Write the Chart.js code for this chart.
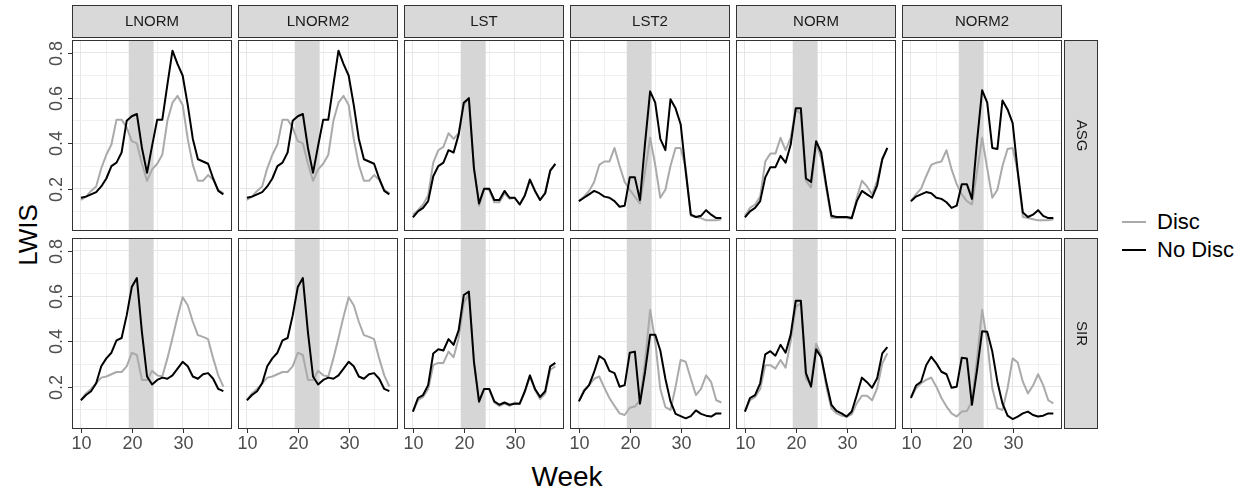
<!DOCTYPE html>
<html>
<head>
<meta charset="utf-8">
<script src="https://cdn.jsdelivr.net/npm/chart.js@4.4.1/dist/chart.umd.min.js"></script>
<style>
body { margin: 0; background: #fff; font-family: "Liberation Sans", Arial, sans-serif; }
#wrap { position: relative; width: 1249px; height: 492px; overflow: hidden; }
.cell { position: absolute; }
.title { position: absolute; color: #000; white-space: nowrap; }
#legend { position: absolute; left: 1122px; top: 208px; font-size: 22px; color: #000; }
.key { height: 28px; display: flex; align-items: center; }
.swatch { display: inline-block; width: 24px; height: 2px; margin-right: 11px; }
</style>
</head>
<body>
<div id="wrap">
  <div class="title" style="left:28px;top:235px;font-size:26px;transform:translate(-50%,-50%) rotate(-90deg);">LWIS</div>
  <div class="title" style="left:567px;top:477px;font-size:28px;transform:translate(-50%,-50%);">Week</div>
  <div id="legend"></div>
</div>
<script>
// ---- data ----
const weeks = [10,11,12,13,14,15,16,17,18,19,20,21,22,23,24,25,26,27,28,29,30,31,32,33,34,35,36,37,38];
const models = ['LNORM', 'LNORM2', 'LST', 'LST2', 'NORM', 'NORM2'];
const regions = ['ASG', 'SIR'];
const series = ['Disc', 'No Disc'];
const xTickLabels = [10, 20, 30];
const yTickLabels = [0.2, 0.4, 0.6, 0.8];
const shadedWeeks = [19.4, 24.3];

// ASG row
const lnormAsgDisc   = [0.15,0.165,0.19,0.21,0.29,0.35,0.395,0.505,0.505,0.47,0.41,0.40,0.31,0.235,0.285,0.31,0.35,0.50,0.58,0.61,0.57,0.42,0.305,0.235,0.235,0.26,0.24,0.195,0.18];
const lnormAsgNoDisc = [0.16,0.165,0.175,0.185,0.21,0.245,0.30,0.315,0.36,0.50,0.52,0.53,0.38,0.27,0.39,0.505,0.505,0.66,0.81,0.75,0.70,0.57,0.42,0.33,0.32,0.31,0.245,0.19,0.175];
const lnorm2AsgDisc   = [0.15,0.165,0.19,0.21,0.29,0.35,0.395,0.505,0.505,0.47,0.41,0.40,0.31,0.235,0.285,0.31,0.35,0.50,0.58,0.61,0.57,0.42,0.305,0.235,0.235,0.26,0.24,0.195,0.18];
const lnorm2AsgNoDisc = [0.16,0.165,0.175,0.185,0.21,0.245,0.30,0.315,0.36,0.50,0.52,0.53,0.38,0.27,0.39,0.505,0.505,0.66,0.81,0.75,0.70,0.57,0.42,0.33,0.32,0.31,0.245,0.19,0.175];
const lstAsgDisc   = [0.085,0.105,0.13,0.17,0.315,0.37,0.385,0.445,0.42,0.445,0.57,0.60,0.29,0.125,0.20,0.195,0.14,0.14,0.18,0.155,0.16,0.13,0.17,0.24,0.19,0.15,0.18,0.28,0.31];
const lstAsgNoDisc = [0.073,0.10,0.115,0.145,0.255,0.30,0.315,0.37,0.36,0.44,0.58,0.60,0.29,0.135,0.20,0.20,0.15,0.15,0.19,0.16,0.16,0.13,0.17,0.24,0.19,0.15,0.18,0.28,0.31];
const lst2AsgDisc   = [0.145,0.165,0.19,0.23,0.305,0.32,0.32,0.38,0.30,0.23,0.195,0.165,0.135,0.275,0.425,0.305,0.16,0.195,0.30,0.38,0.38,0.29,0.08,0.075,0.07,0.06,0.06,0.06,0.065];
const lst2AsgNoDisc = [0.145,0.16,0.175,0.19,0.18,0.165,0.16,0.145,0.12,0.125,0.25,0.25,0.15,0.40,0.63,0.58,0.42,0.37,0.595,0.555,0.485,0.275,0.085,0.075,0.08,0.105,0.085,0.07,0.07];
const normAsgDisc   = [0.08,0.115,0.13,0.165,0.32,0.355,0.355,0.425,0.37,0.425,0.55,0.53,0.235,0.205,0.40,0.335,0.20,0.07,0.07,0.07,0.07,0.067,0.16,0.235,0.21,0.175,0.235,0.33,0.38];
const normAsgNoDisc = [0.073,0.10,0.115,0.145,0.25,0.295,0.295,0.345,0.315,0.395,0.555,0.555,0.245,0.23,0.41,0.36,0.215,0.08,0.075,0.075,0.075,0.07,0.145,0.19,0.175,0.16,0.215,0.33,0.38];
const norm2AsgDisc   = [0.145,0.175,0.20,0.255,0.305,0.315,0.32,0.37,0.285,0.22,0.175,0.145,0.13,0.275,0.425,0.29,0.16,0.195,0.30,0.375,0.38,0.275,0.075,0.07,0.065,0.06,0.06,0.06,0.065];
const norm2AsgNoDisc = [0.145,0.165,0.175,0.185,0.18,0.16,0.155,0.14,0.115,0.125,0.22,0.22,0.155,0.41,0.635,0.58,0.38,0.375,0.59,0.55,0.49,0.275,0.095,0.075,0.085,0.105,0.08,0.07,0.07];

// SIR row
const lnormSirDisc   = [0.14,0.17,0.19,0.215,0.24,0.245,0.255,0.265,0.265,0.29,0.35,0.34,0.23,0.23,0.27,0.25,0.245,0.325,0.415,0.51,0.595,0.56,0.487,0.428,0.42,0.41,0.325,0.25,0.20];
const lnormSirNoDisc = [0.14,0.163,0.18,0.215,0.29,0.325,0.35,0.405,0.415,0.515,0.64,0.68,0.44,0.245,0.21,0.23,0.24,0.235,0.25,0.28,0.31,0.29,0.245,0.235,0.255,0.26,0.235,0.19,0.18];
const lnorm2SirDisc   = [0.14,0.17,0.19,0.215,0.24,0.245,0.255,0.265,0.265,0.29,0.35,0.34,0.23,0.23,0.27,0.25,0.245,0.325,0.415,0.51,0.595,0.56,0.487,0.428,0.42,0.41,0.325,0.25,0.20];
const lnorm2SirNoDisc = [0.14,0.163,0.18,0.215,0.29,0.325,0.35,0.405,0.415,0.515,0.64,0.68,0.44,0.245,0.21,0.23,0.24,0.235,0.25,0.28,0.31,0.29,0.245,0.235,0.255,0.26,0.235,0.19,0.18];
const lstSirDisc   = [0.09,0.14,0.155,0.19,0.295,0.305,0.305,0.355,0.33,0.415,0.57,0.61,0.31,0.13,0.19,0.19,0.13,0.115,0.125,0.115,0.13,0.125,0.175,0.245,0.185,0.145,0.17,0.275,0.29];
const lstSirNoDisc = [0.09,0.15,0.163,0.207,0.347,0.365,0.36,0.41,0.385,0.45,0.605,0.62,0.31,0.135,0.19,0.19,0.135,0.12,0.13,0.12,0.125,0.125,0.18,0.25,0.19,0.155,0.18,0.29,0.305];
const lst2SirDisc   = [0.135,0.185,0.207,0.235,0.245,0.195,0.15,0.115,0.082,0.075,0.107,0.112,0.14,0.31,0.54,0.40,0.19,0.11,0.097,0.20,0.318,0.31,0.235,0.163,0.19,0.25,0.22,0.14,0.13];
const lst2SirNoDisc = [0.135,0.18,0.207,0.265,0.335,0.32,0.27,0.26,0.20,0.207,0.35,0.355,0.125,0.265,0.43,0.43,0.36,0.235,0.135,0.08,0.07,0.06,0.07,0.095,0.08,0.072,0.068,0.082,0.082];
const normSirDisc   = [0.09,0.14,0.155,0.19,0.295,0.295,0.28,0.318,0.284,0.40,0.553,0.568,0.237,0.207,0.39,0.337,0.20,0.105,0.082,0.072,0.068,0.078,0.127,0.16,0.16,0.14,0.193,0.303,0.347];
const normSirNoDisc = [0.09,0.15,0.163,0.215,0.343,0.357,0.337,0.385,0.35,0.43,0.58,0.58,0.26,0.20,0.365,0.33,0.22,0.12,0.093,0.082,0.068,0.09,0.163,0.24,0.22,0.195,0.237,0.347,0.375];
const norm2SirDisc   = [0.15,0.193,0.215,0.23,0.24,0.20,0.15,0.112,0.082,0.068,0.09,0.093,0.134,0.325,0.54,0.40,0.193,0.105,0.097,0.193,0.325,0.307,0.222,0.17,0.205,0.255,0.207,0.14,0.126];
const norm2SirNoDisc = [0.15,0.205,0.222,0.295,0.332,0.303,0.266,0.255,0.195,0.20,0.328,0.325,0.12,0.273,0.445,0.443,0.355,0.222,0.126,0.072,0.057,0.068,0.082,0.09,0.075,0.068,0.072,0.082,0.082];

const panels = [
  [[lnormAsgDisc, lnormAsgNoDisc], [lnorm2AsgDisc, lnorm2AsgNoDisc], [lstAsgDisc, lstAsgNoDisc],
   [lst2AsgDisc, lst2AsgNoDisc], [normAsgDisc, normAsgNoDisc], [norm2AsgDisc, norm2AsgNoDisc]],
  [[lnormSirDisc, lnormSirNoDisc], [lnorm2SirDisc, lnorm2SirNoDisc], [lstSirDisc, lstSirNoDisc],
   [lst2SirDisc, lst2SirNoDisc], [normSirDisc, normSirNoDisc], [norm2SirDisc, norm2SirNoDisc]]
];

const colors = ['#aaaaaa', '#000000'];
const FONT = '"Liberation Sans", Arial, sans-serif';

// ---- layout ----
const panelW = 160, panelH = 191;
const colLeft = c => 72 + c * 166;
const rowTop = [40, 238];
const pad = { left: 45, top: 38, right: 40, bottom: 28 };

// draws shaded band, panel frame, strips and outer ticks
const facet = {
  id: 'facet',
  beforeDatasetsDraw(chart) {
    const { ctx, chartArea: a } = chart, x = chart.scales.x;
    const x0 = x.getPixelForValue(shadedWeeks[0]), x1 = x.getPixelForValue(shadedWeeks[1]);
    ctx.save();
    ctx.fillStyle = '#d6d6d6';
    ctx.fillRect(x0, a.top, x1 - x0, a.bottom - a.top);
    ctx.restore();
  },
  afterDraw(chart, args, o) {
    const { ctx, chartArea: a } = chart, x = chart.scales.x, y = chart.scales.y;
    ctx.save();
    ctx.strokeStyle = '#333333';
    ctx.lineWidth = 1;
    ctx.strokeRect(a.left + 0.5, a.top + 0.5, a.width - 1, a.height - 1);

    ctx.fillStyle = '#4d4d4d';
    ctx.font = '18px ' + FONT;
    if (o.row === 1) {
      ctx.textAlign = 'center';
      ctx.textBaseline = 'top';
      xTickLabels.forEach(v => {
        const px = Math.round(x.getPixelForValue(v)) + 0.5;
        ctx.beginPath(); ctx.moveTo(px, a.bottom); ctx.lineTo(px, a.bottom + 4); ctx.stroke();
        ctx.fillText(String(v), px, a.bottom + 6);
      });
    }
    if (o.col === 0) {
      ctx.textAlign = 'center';
      ctx.textBaseline = 'bottom';
      yTickLabels.forEach(v => {
        const py = Math.round(y.getPixelForValue(v)) + 0.5;
        ctx.beginPath(); ctx.moveTo(a.left - 4, py); ctx.lineTo(a.left, py); ctx.stroke();
        ctx.save();
        ctx.translate(a.left - 6, py);
        ctx.rotate(-Math.PI / 2);
        ctx.fillText(v.toFixed(1), 0, 0);
        ctx.restore();
      });
    }
    ctx.font = '15px ' + FONT;
    if (o.row === 0) {
      const top = a.top - 35;
      ctx.fillStyle = '#d9d9d9';
      ctx.fillRect(a.left, top, a.width, 33);
      ctx.strokeRect(a.left + 0.5, top + 0.5, a.width - 1, 32);
      ctx.fillStyle = '#1a1a1a';
      ctx.textAlign = 'center';
      ctx.textBaseline = 'middle';
      ctx.fillText(models[o.col], a.left + a.width / 2, top + 17);
    }
    if (o.col === models.length - 1) {
      const left = a.right + 2;
      ctx.fillStyle = '#d9d9d9';
      ctx.fillRect(left, a.top, 34, a.height);
      ctx.strokeRect(left + 0.5, a.top + 0.5, 33, a.height - 1);
      ctx.fillStyle = '#1a1a1a';
      ctx.textAlign = 'center';
      ctx.textBaseline = 'middle';
      ctx.save();
      ctx.translate(left + 17, a.top + a.height / 2);
      ctx.rotate(Math.PI / 2);
      ctx.fillText(regions[o.row], 0, 0);
      ctx.restore();
    }
    ctx.restore();
  }
};

const xGrid = [10, 15, 20, 25, 30, 35];
const yGrid = [0.1, 0.2, 0.3, 0.4, 0.5, 0.6, 0.7, 0.8];
const gridColor = ctx => (Math.round(ctx.tick.value * 10) % 2 === 0 ? '#e6e6e6' : '#f0f0f0');
const gridColorX = ctx => (ctx.tick.value % 10 === 0 ? '#e6e6e6' : '#f0f0f0');

const wrap = document.getElementById('wrap');

regions.forEach((region, r) => {
  models.forEach((model, c) => {
    const div = document.createElement('div');
    div.className = 'cell';
    div.style.left = (colLeft(c) - pad.left) + 'px';
    div.style.top = (rowTop[r] - pad.top) + 'px';
    const cv = document.createElement('canvas');
    cv.width = pad.left + panelW + pad.right;
    cv.height = pad.top + panelH + pad.bottom;
    div.appendChild(cv);
    wrap.appendChild(div);

    const datasets = series.map((name, s) => ({
      label: name,
      data: weeks.map((w, i) => ({ x: w, y: panels[r][c][s][i] })),
      borderColor: colors[s],
      borderWidth: 2,
      pointRadius: 0,
      tension: 0,
      borderJoinStyle: 'round',
      order: s === 1 ? 1 : 2
    }));

    new Chart(cv, {
      type: 'line',
      data: { datasets },
      plugins: [facet],
      options: {
        responsive: false,
        animation: false,
        devicePixelRatio: 1,
        events: [],
        layout: { padding: pad },
        plugins: { legend: { display: false }, tooltip: { enabled: false }, facet: { row: r, col: c } },
        scales: {
          x: {
            type: 'linear', min: 8.25, max: 39.7,
            afterBuildTicks: s => { s.ticks = xGrid.map(v => ({ value: v })); },
            ticks: { display: false },
            border: { display: false },
            grid: { drawTicks: false, color: gridColorX, lineWidth: 1 }
          },
          y: {
            type: 'linear', min: 0.013, max: 0.857,
            afterBuildTicks: s => { s.ticks = yGrid.map(v => ({ value: v })); },
            ticks: { display: false },
            border: { display: false },
            grid: { drawTicks: false, color: gridColor, lineWidth: 1 }
          }
        }
      }
    });
  });
});

// legend
const legend = document.getElementById('legend');
series.forEach((name, s) => {
  const k = document.createElement('div');
  k.className = 'key';
  k.innerHTML = '<span class="swatch" style="background:' + colors[s] + '"></span>' + name;
  legend.appendChild(k);
});
</script>
</body>
</html>
